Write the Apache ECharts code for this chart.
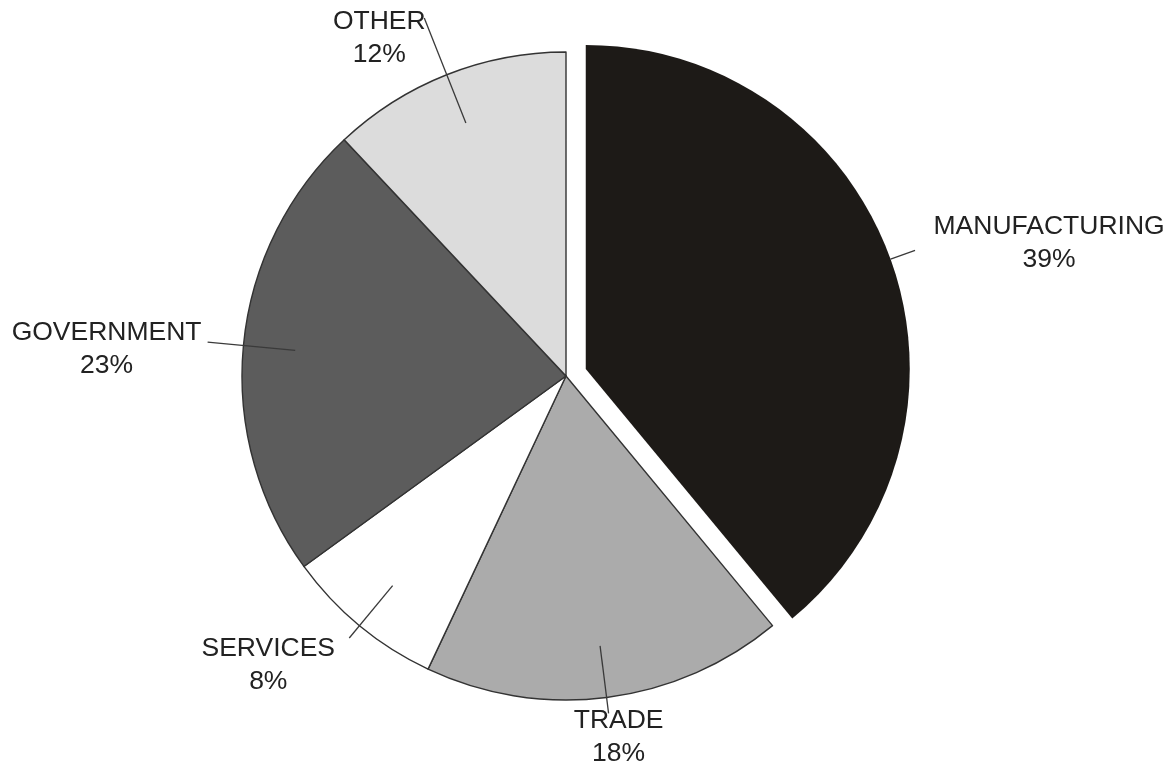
<!DOCTYPE html>
<html>
<head>
<meta charset="utf-8">
<script src="https://cdn.jsdelivr.net/npm/echarts@6/dist/echarts.min.js"></script>
<style>
html,body{margin:0;padding:0;background:#fff;}
#chart{width:1175px;height:766px;}
</style>
</head>
<body>
<div id="chart"></div>
<script>
// ---- data ----
const categories = ['MANUFACTURING', 'TRADE', 'SERVICES', 'GOVERNMENT', 'OTHER'];
const shares = [39, 18, 8, 23, 12];

// ---- styles / layout (not data) ----
const palette = ['#1d1a17', '#ababab', '#ffffff', '#5c5c5c', '#dcdcdc'];
const lineLengths = [26, 68, 68, 88, 113];
const labelNudge = [[129, -7], [5, 24], [-76, 27], [-96, 7], [-40, 20]];

const CENTER = [566, 376];
const R = 324;
const R_INNER = 272;

const textStyle = {
  fontFamily: 'Liberation Sans, Arial, sans-serif',
  fontSize: 26.5,
  lineHeight: 33,
  color: '#222222'
};

function mainData() {
  return categories.map((name, i) => ({
    name: name,
    value: shares[i],
    selected: i === 0,
    itemStyle: {
      color: palette[i],
      borderColor: i === 0 ? palette[0] : '#333333',
      borderWidth: i === 0 ? 0 : 1.4
    },
    label: { show: i === 0 },
    labelLine: { show: i === 0, length: lineLengths[i], length2: 0 }
  }));
}

function innerData() {
  return categories.map((name, i) => ({
    name: name,
    value: shares[i],
    selected: i === 0,
    label: { show: i !== 0 },
    labelLine: { show: i !== 0, length: lineLengths[i], length2: 0 }
  }));
}

const layoutFn = function (p) {
  const n = labelNudge[p.dataIndex];
  return { align: 'center', verticalAlign: 'middle', dx: n[0], dy: n[1] };
};

const chart = echarts.init(document.getElementById('chart'), null, { renderer: 'canvas' });
chart.setOption({
  animation: false,
  backgroundColor: '#ffffff',
  series: [
    {
      type: 'pie',
      z: 2,
      center: CENTER,
      radius: R,
      startAngle: 90,
      clockwise: true,
      selectedMode: 'single',
      selectedOffset: 21,
      avoidLabelOverlap: false,
      emphasis: { disabled: true },
      label: Object.assign({ position: 'outside', formatter: '{b}\n{c}%', distanceToLabelLine: 5 }, textStyle),
      labelLine: { lineStyle: { color: '#3a3a3a', width: 1.3 } },
      labelLayout: layoutFn,
      data: mainData()
    },
    {
      type: 'pie',
      z: 3,
      silent: true,
      center: CENTER,
      radius: R_INNER,
      startAngle: 90,
      clockwise: true,
      selectedMode: 'single',
      selectedOffset: 21,
      avoidLabelOverlap: false,
      emphasis: { disabled: true },
      itemStyle: { color: 'rgba(0,0,0,0)', borderWidth: 0 },
      label: Object.assign({ position: 'outside', formatter: '{b}\n{c}%', distanceToLabelLine: 5 }, textStyle),
      labelLine: { lineStyle: { color: '#3a3a3a', width: 1.3 } },
      labelLayout: layoutFn,
      data: innerData()
    }
  ]
});
</script>
</body>
</html>
